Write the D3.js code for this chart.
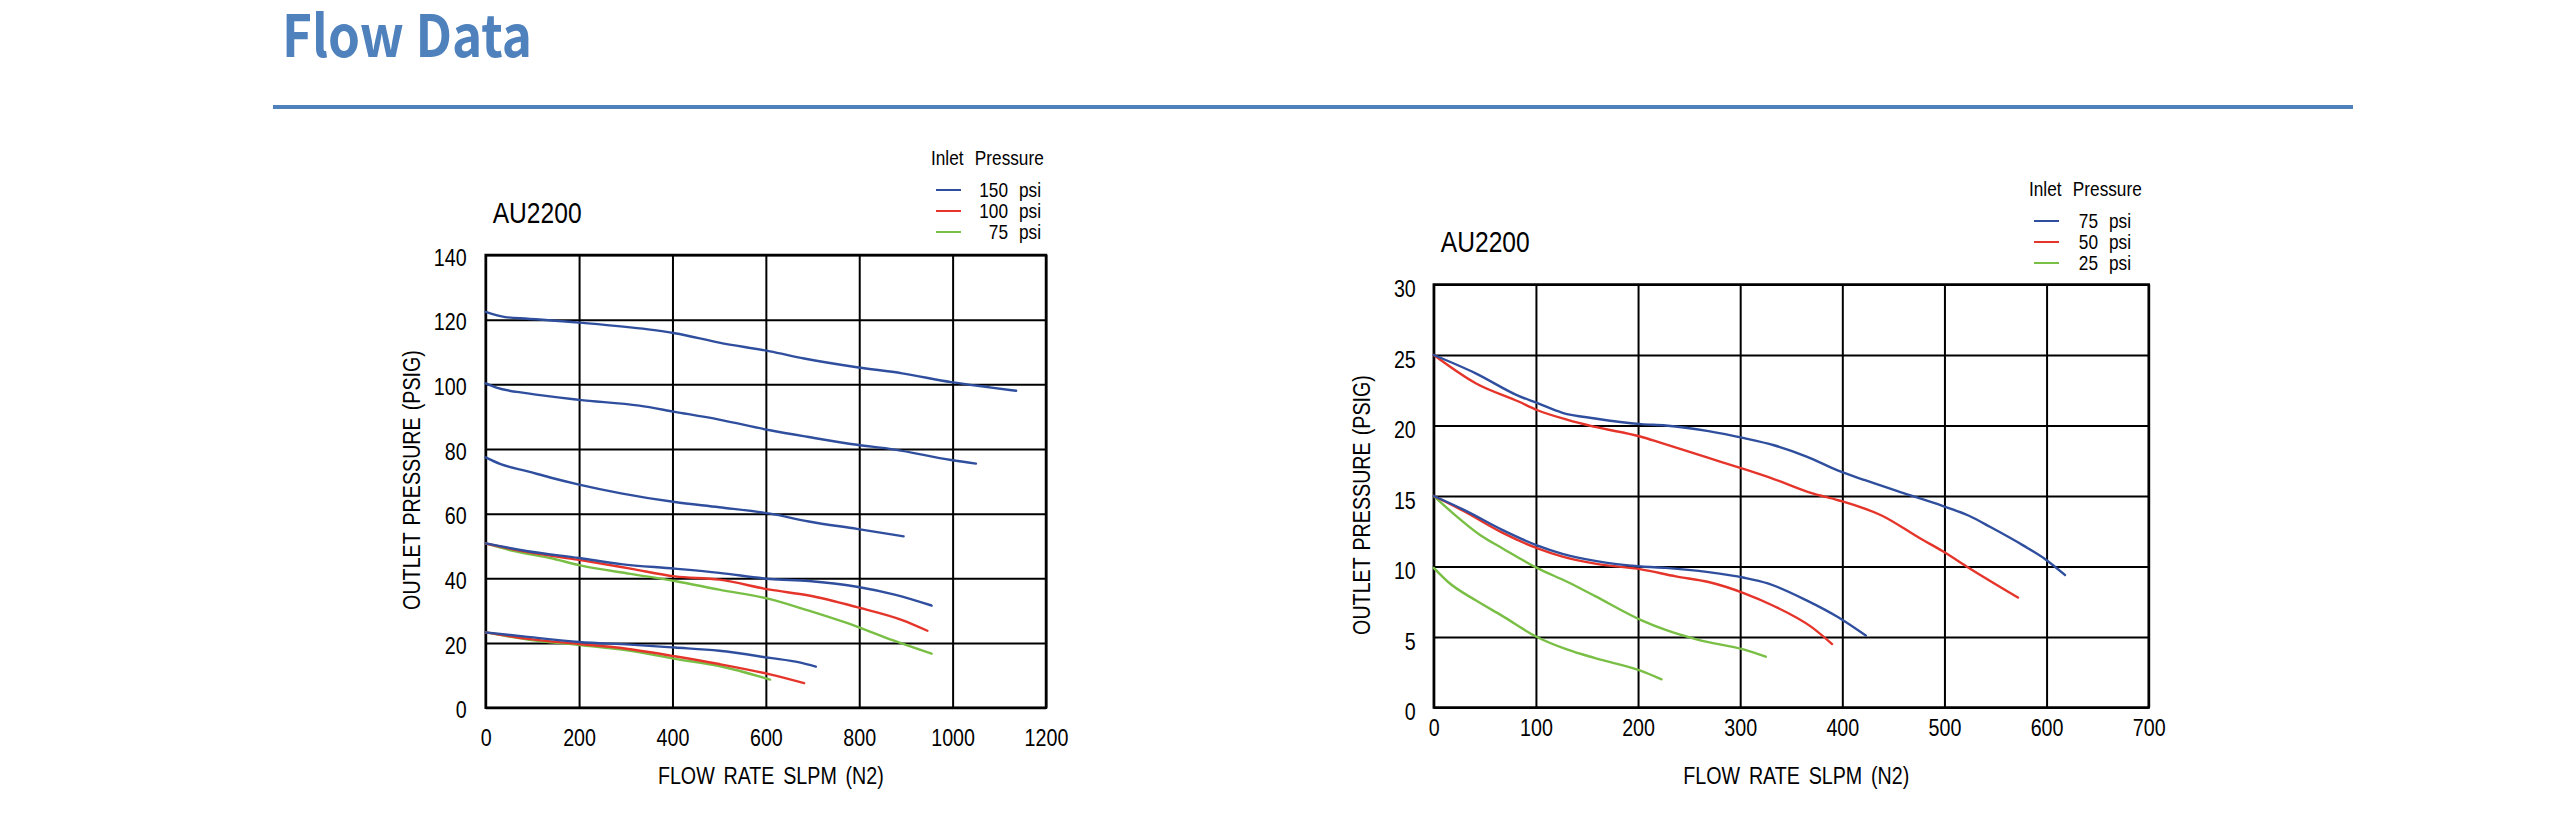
<!DOCTYPE html>
<html>
<head>
<meta charset="utf-8">
<script src="https://cdn.jsdelivr.net/npm/d3@7"></script>
<style>
  body { margin: 0; background: #fff; }
  svg { display: block; }
</style>
</head>
<body>
<script>
const W = 2551, H = 827;
// Arial-metric font squeezed to 82% gives the narrow drafting look of the original
const NARROW = '"Liberation Sans", Arial, sans-serif';
const SQ = 0.82;
const BLUE = "#2f4f9e", RED = "#e5352b", GREEN = "#79bf45", HEAD = "#4f81bd";

// ---- chart 1 (inlet 150 / 100 / 75 psi) ----
const c1XTicks = [0, 200, 400, 600, 800, 1000, 1200];
const c1YTicks = [0, 20, 40, 60, 80, 100, 120, 140];
const c1Legend = ["150", "100", "75"];
const c1_150_a = [[0,122.4],[42,120.8],[90,120.3],[200,119.1],[348,117],[405,115.8],[500,112.9],[609,110.2],[682,108],[795,105.3],[892,103.4],[997,100.7],[1083,99],[1136,98]];
const c1_150_b = [[0,100.3],[23,99],[90,97.2],[200,95.2],[329,93.4],[405,91.5],[500,89.1],[609,85.8],[692,83.7],[795,81.3],[873,79.9],[997,76.6],[1050,75.5]];
const c1_150_c = [[0,77.4],[32,75.3],[90,73.1],[138,71.2],[200,69],[290,66.3],[405,63.6],[500,62],[609,60],[692,57.6],[795,55.3],[895,53]];
const c1_150_d = [[0,50.8],[90,48.4],[200,46.3],[290,44.4],[405,43],[500,41.7],[609,39.8],[692,39.2],[795,37.4],[878,34.9],[955,31.6]];
const c1_150_e = [[0,23.3],[90,21.9],[200,20.3],[310,19.5],[405,18.6],[500,17.6],[609,15.4],[672,14],[707,12.7]];
const c1_100_a = [[0,50.8],[90,48.1],[200,45.7],[310,43],[405,40.6],[500,39.6],[609,36.5],[692,34.7],[795,31.1],[892,27.1],[946,23.8]];
const c1_100_b = [[0,23.3],[90,21.3],[200,19.7],[281,18.6],[405,15.9],[500,13.5],[609,10.3],[682,7.6]];
const c1_75_a = [[0,50.8],[61,48.4],[138,46.3],[200,44.1],[310,41.4],[405,39.2],[500,36.5],[609,33.6],[692,30],[795,25.1],[873,20.8],[955,16.7]];
const c1_75_b = [[0,23.3],[90,21.1],[200,19.4],[310,17.6],[405,15.1],[500,12.9],[609,8.7]];

// ---- chart 2 (inlet 75 / 50 / 25 psi) ----
const c2XTicks = [0, 100, 200, 300, 400, 500, 600, 700];
const c2YTicks = [0, 5, 10, 15, 20, 25, 30];
const c2Legend = ["75", "50", "25"];
const c2_75_a = [[0,25],[41,23.7],[83,22.1],[101,21.6],[126,20.9],[158,20.5],[203,20.1],[227,20],[269,19.6],[304,19.1],[333,18.6],[365,17.8],[396,16.8],[423,16.1],[460,15.2],[498,14.3],[524,13.6],[545,12.8],[577,11.5],[599,10.5],[618,9.4]];
const c2_75_b = [[0,15],[30,14],[67,12.6],[101,11.5],[126,10.9],[158,10.4],[203,10],[227,9.9],[269,9.6],[304,9.2],[327,8.8],[365,7.6],[396,6.4],[423,5.1]];
const c2_50_a = [[0,25],[41,23],[83,21.7],[101,21.1],[131,20.4],[158,19.9],[203,19.2],[221,18.8],[269,17.7],[304,16.9],[333,16.2],[370,15.2],[396,14.7],[439,13.6],[476,12],[498,11.1],[524,9.9],[572,7.8]];
const c2_50_b = [[0,15],[30,13.9],[67,12.4],[101,11.3],[126,10.7],[158,10.2],[203,9.8],[237,9.3],[269,8.9],[304,8.1],[333,7.2],[370,5.7],[390,4.5]];
const c2_25_a = [[0,15],[20,13.7],[46,12.2],[67,11.3],[101,9.9],[131,8.9],[158,7.9],[203,6.2],[227,5.5],[259,4.8],[304,4.1],[325,3.6]];
const c2_25_b = [[0,9.9],[14,8.9],[41,7.6],[67,6.5],[101,5],[131,4.1],[158,3.5],[203,2.6],[223,2]];

const svg = d3.select("body").append("svg")
    .attr("width", W)
    .attr("height", H);

// heading
svg.append("text")
    .attr("x", 282)
    .attr("y", 57)
    .attr("textLength", 250)
    .attr("lengthAdjust", "spacingAndGlyphs")
    .style("font-family", '"Noto Sans CJK SC", "Noto Sans", sans-serif')
    .style("font-weight", 700)
    .style("font-size", "58px")
    .style("fill", HEAD)
    .text("Flow Data");
svg.append("line")
    .attr("x1", 273).attr("x2", 2353)
    .attr("y1", 107).attr("y2", 107)
    .attr("stroke", HEAD)
    .attr("stroke-width", 4);

// squeezed text placed at (x, y)
function narrow(parent, x, y, size, str, extra) {
    return parent.append("text")
        .attr("transform", "translate(" + x + "," + y + ")" + (extra || "") + " scale(" + SQ + ",1)")
        .style("font-family", NARROW)
        .style("font-size", size + "px")
        .style("fill", "#000")
        .text(str);
}

function drawChart(c) {
    const g = svg.append("g");
    const x = d3.scaleLinear().domain(c.xDomain).range([c.left, c.right]);
    const y = d3.scaleLinear().domain(c.yDomain).range([c.bottom, c.top]);
    const pw = c.right - c.left, ph = c.bottom - c.top;

    // vertical grid + x labels
    const xa = g.append("g")
        .attr("transform", "translate(0," + c.bottom + ")")
        .call(d3.axisBottom(x).tickValues(c.xTicks).tickSize(-ph).tickFormat(d3.format("d")));
    xa.select(".domain").remove();
    xa.selectAll("line").attr("stroke", "#000").attr("stroke-width", 2);
    xa.selectAll("text")
        .attr("y", 0)
        .attr("dy", "0.36em")
        .attr("transform", "translate(0," + c.xLabelDy + ") scale(" + SQ + ",1)")
        .style("font-family", NARROW)
        .style("font-size", "24px")
        .style("fill", "#000");

    // horizontal grid + y labels
    const ya = g.append("g")
        .attr("transform", "translate(" + c.left + ",0)")
        .call(d3.axisLeft(y).tickValues(c.yTicks).tickSize(-pw).tickFormat(d3.format("d")));
    ya.select(".domain").remove();
    ya.selectAll("line").attr("stroke", "#000").attr("stroke-width", 2);
    ya.selectAll("text")
        .attr("x", 0)
        .attr("dy", c.yLabelDy)
        .attr("transform", "translate(" + (-c.yLabelGap) + ",0) scale(" + SQ + ",1)")
        .style("font-family", NARROW)
        .style("font-size", "24px")
        .style("fill", "#000");

    g.append("rect")
        .attr("x", c.left).attr("y", c.top)
        .attr("width", pw).attr("height", ph)
        .attr("fill", "none")
        .attr("stroke", "#000")
        .attr("stroke-width", 2.5);

    const line = d3.line()
        .x(d => x(d[0]))
        .y(d => y(d[1]))
        .curve(d3.curveMonotoneX);
    c.series.forEach(s => {
        g.append("path")
            .datum(s.pts)
            .attr("d", line)
            .attr("fill", "none")
            .attr("stroke", s.color)
            .attr("stroke-width", 2.4)
            .attr("stroke-linejoin", "round")
            .attr("stroke-linecap", "round");
    });

    // model name
    narrow(g, c.left + 7, c.nameY, 30, "AU2200");

    // axis titles
    narrow(g, (c.left + c.right) / 2 + 5, 784, 24, "FLOW RATE SLPM (N2)")
        .attr("text-anchor", "middle")
        .style("word-spacing", "4px");
    narrow(g, c.yTitleX, c.yTitleY, 24, "OUTLET PRESSURE (PSIG)", " rotate(-90)")
        .attr("text-anchor", "middle")
        .style("word-spacing", "2px");

    // legend
    const lg = g.append("g").attr("transform", "translate(" + c.legX + "," + c.legY + ")");
    narrow(lg, -5, -25, 21, "Inlet Pressure").style("word-spacing", "8px");
    c.legend.forEach((lab, i) => {
        lg.append("line")
            .attr("x1", 0).attr("x2", 25)
            .attr("y1", i * 21).attr("y2", i * 21)
            .attr("stroke", [BLUE, RED, GREEN][i])
            .attr("stroke-width", 2);
        narrow(lg, c.legNumX, i * 21 + 7, 21, lab).attr("text-anchor", "end");
        narrow(lg, c.legNumX + 11, i * 21 + 7, 21, "psi");
    });
}

drawChart({
    xDomain: [0, 1200], yDomain: [0, 140],
    left: 485.7, right: 1046, top: 255, bottom: 707.7,
    xTicks: c1XTicks, yTicks: c1YTicks, legend: c1Legend,
    xLabelDy: 30, yLabelGap: 19, yLabelDy: "0.42em",
    nameY: 223, yTitleX: 420, yTitleY: 480,
    legX: 936, legY: 190, legNumX: 72,
    series: [
        { color: BLUE, pts: c1_150_a }, { color: BLUE, pts: c1_150_b },
        { color: BLUE, pts: c1_150_c }, { color: GREEN, pts: c1_75_a },
        { color: RED, pts: c1_100_a }, { color: BLUE, pts: c1_150_d },
        { color: GREEN, pts: c1_75_b }, { color: RED, pts: c1_100_b },
        { color: BLUE, pts: c1_150_e }
    ]
});

drawChart({
    xDomain: [0, 700], yDomain: [0, 30],
    left: 1433.8, right: 2148.7, top: 284.5, bottom: 707.5,
    xTicks: c2XTicks, yTicks: c2YTicks, legend: c2Legend,
    xLabelDy: 20, yLabelGap: 18, yLabelDy: "0.5em",
    nameY: 252, yTitleX: 1370, yTitleY: 505,
    legX: 2034, legY: 221, legNumX: 64,
    series: [
        { color: GREEN, pts: c2_25_a }, { color: GREEN, pts: c2_25_b },
        { color: RED, pts: c2_50_a }, { color: RED, pts: c2_50_b },
        { color: BLUE, pts: c2_75_a }, { color: BLUE, pts: c2_75_b }
    ]
});
</script>
</body>
</html>
